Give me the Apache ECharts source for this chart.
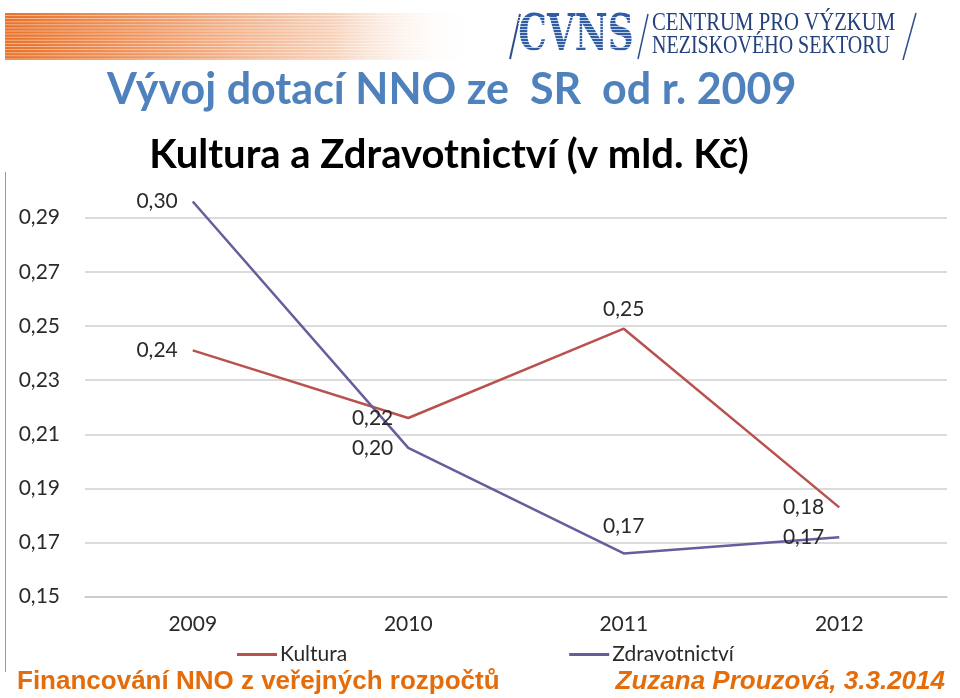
<!DOCTYPE html>
<html>
<head>
<meta charset="utf-8">
<script src="https://cdn.jsdelivr.net/npm/echarts@6/dist/echarts.min.js"></script>
<style>
html,body{margin:0;padding:0;background:#fff;}
#c{width:960px;height:698px;}
</style>
</head>
<body>
<div id="c"></div>
<script>
// ---- data ----
var categories = ['2009', '2010', '2011', '2012'];
var kultura = [0.241, 0.216, 0.249, 0.183];
var zdravotnictvi = [0.296, 0.205, 0.166, 0.172];
var seriesNames = ['Kultura', 'Zdravotnictví'];
var yTicks = [0.15, 0.17, 0.19, 0.21, 0.23, 0.25, 0.27, 0.29];
var kulturaLabelPos = ['left', 'left', 'top', 'left'];
var zdravLabelPos = ['left', 'left', 'top', 'left'];
var kulturaLabelDist = [15, 15, 9, 15];
var zdravLabelDist = [15, 15, 17, 15];

var chart = echarts.init(document.getElementById('c'), null, {renderer: 'canvas'});

var chartFont = 'Lato';
var fmt = function (v) { return (Math.round(v * 1000) / 1000).toFixed(2).replace('.', ','); };

function buildData(vals, pos, dist) {
  return vals.map(function (v, i) {
    return {
      value: v,
      label: {position: pos[i], distance: dist[i]}
    };
  });
}

// stripes for the orange bar
var stripes = [];
for (var i = 0; i < 15; i++) {
  stripes.push({
    type: 'rect', silent: true,
    shape: {x: 5, y: 15 + i * 3.1, width: 470, height: 1},
    style: {fill: 'rgba(255,255,255,0.45)'}
  });
}
var logoStripes = [];
for (var j = 0; j < 14; j++) {
  logoStripes.push({
    type: 'rect', silent: true, z: 110,
    shape: {x: 518, y: 17 + j * 3, width: 116, height: 1},
    style: {fill: 'rgba(255,255,255,0.7)'}
  });
}

var graphics = [
  {
    type: 'rect', silent: true,
    shape: {x: 5, y: 13, width: 470, height: 47},
    style: {
      fill: new echarts.graphic.LinearGradient(0, 0, 1, 0, [
        {offset: 0, color: '#e8722a'},
        {offset: 0.35, color: '#f0a070'},
        {offset: 0.7, color: '#f7d2bb'},
        {offset: 1, color: 'rgba(255,255,255,0)'}
      ])
    }
  }
].concat(stripes).concat([
  // logo slashes
  {type: 'line', silent: true, shape: {x1: 520, y1: 14, x2: 510, y2: 59}, style: {stroke: '#2d4f8e', lineWidth: 2}},
  {type: 'line', silent: true, shape: {x1: 648, y1: 14, x2: 638, y2: 59}, style: {stroke: '#2d4f8e', lineWidth: 1.5}},
  {type: 'line', silent: true, shape: {x1: 916, y1: 13, x2: 903, y2: 60}, style: {stroke: '#2d4f8e', lineWidth: 1.5}},
  {
    type: 'text', silent: true, z: 100,
    style: {
      text: 'CVNS', x: 576, y: 37, textAlign: 'center', textVerticalAlign: 'middle',
      font: 'bold 50px "DejaVu Serif"', fill: '#2e5da6'
    },
    scaleX: 0.72, originX: 576, originY: 37
  }
]).concat(logoStripes).concat([
  {
    type: 'text', silent: true,
    style: {text: 'CENTRUM PRO VÝZKUM', x: 652, y: 23, textVerticalAlign: 'middle',
      font: '25px "Liberation Serif"', fill: '#24417e'},
    scaleX: 0.83, originX: 652, originY: 23
  },
  {
    type: 'text', silent: true,
    style: {text: 'NEZISKOVÉHO SEKTORU', x: 652, y: 46, textVerticalAlign: 'middle',
      font: '25px "Liberation Serif"', fill: '#24417e'},
    scaleX: 0.80, originX: 652, originY: 46
  },
  {
    type: 'text', silent: true,
    style: {text: 'Vývoj dotací NNO ze  SR  od r. 2009', x: 107, y: 90, textVerticalAlign: 'middle',
      font: 'bold 43px Lato', fill: '#4f81bd'}
  },
  {
    type: 'text', silent: true,
    style: {text: 'Kultura a Zdravotnictví (v mld. Kč)', x: 449, y: 155, textAlign: 'center', textVerticalAlign: 'middle',
      font: 'bold 40px Lato', fill: '#000000'}
  },
  {
    type: 'line', silent: true,
    shape: {x1: 5.5, y1: 172, x2: 5.5, y2: 672},
    style: {stroke: '#9a9a9a', lineWidth: 1}
  },
  {
    type: 'text', silent: true,
    style: {text: 'Financování NNO z veřejných rozpočtů', x: 17, y: 682, textVerticalAlign: 'middle',
      font: 'bold 26px "Liberation Sans"', fill: '#e46c0a'}
  },
  {
    type: 'text', silent: true,
    style: {text: 'Zuzana Prouzová, 3.3.2014', x: 945, y: 682, textAlign: 'right', textVerticalAlign: 'middle',
      font: 'italic bold 26px "Liberation Sans"', fill: '#e46c0a'}
  }
]);

var option = {
  backgroundColor: '#ffffff',
  animation: false,
  textStyle: {fontFamily: chartFont},
  grid: {left: 85, right: 13, top: 217.7, bottom: 101.3, containLabel: false},
  legend: {
    data: seriesNames,
    icon: 'rect',
    left: 232, top: 639,
    itemWidth: 40, itemHeight: 3, itemGap: 222,
    textStyle: {fontFamily: chartFont, fontSize: 21, color: '#2a2a2a', padding: [0, 0, 0, -2]}
  },
  xAxis: {
    type: 'category',
    data: categories,
    boundaryGap: true,
    axisLine: {show: true, lineStyle: {color: '#c8c8c8', width: 1.5}},
    axisTick: {show: false},
    axisLabel: {fontFamily: chartFont, fontSize: 21, color: '#2a2a2a', margin: 17}
  },
  yAxis: {
    type: 'value',
    min: yTicks[0],
    max: yTicks[yTicks.length - 1],
    interval: 0.02,
    axisLine: {show: false},
    axisTick: {show: false},
    splitLine: {show: true, lineStyle: {color: '#cfcfcf', width: 1.5}},
    axisLabel: {
      fontFamily: chartFont, fontSize: 21, color: '#2a2a2a', margin: 25,
      formatter: function (v) { return fmt(v); }
    }
  },
  series: [
    {
      name: seriesNames[0], type: 'line',
      data: buildData(kultura, kulturaLabelPos, kulturaLabelDist),
      symbol: 'circle', symbolSize: 0.01, showSymbol: true, clip: false,
      lineStyle: {color: '#b9524f', width: 2.5},
      itemStyle: {color: '#b9524f'},
      label: {show: true, fontFamily: chartFont, fontSize: 21, color: '#2a2a2a',
        formatter: function (p) { return fmt(p.value); }}
    },
    {
      name: seriesNames[1], type: 'line',
      data: buildData(zdravotnictvi, zdravLabelPos, zdravLabelDist),
      symbol: 'circle', symbolSize: 0.01, showSymbol: true, clip: false,
      lineStyle: {color: '#6a5b9c', width: 2.5},
      itemStyle: {color: '#6a5b9c'},
      label: {show: true, fontFamily: chartFont, fontSize: 21, color: '#2a2a2a',
        formatter: function (p) { return fmt(p.value); }}
    }
  ],
  graphic: graphics
};

chart.setOption(option);
</script>
</body>
</html>
